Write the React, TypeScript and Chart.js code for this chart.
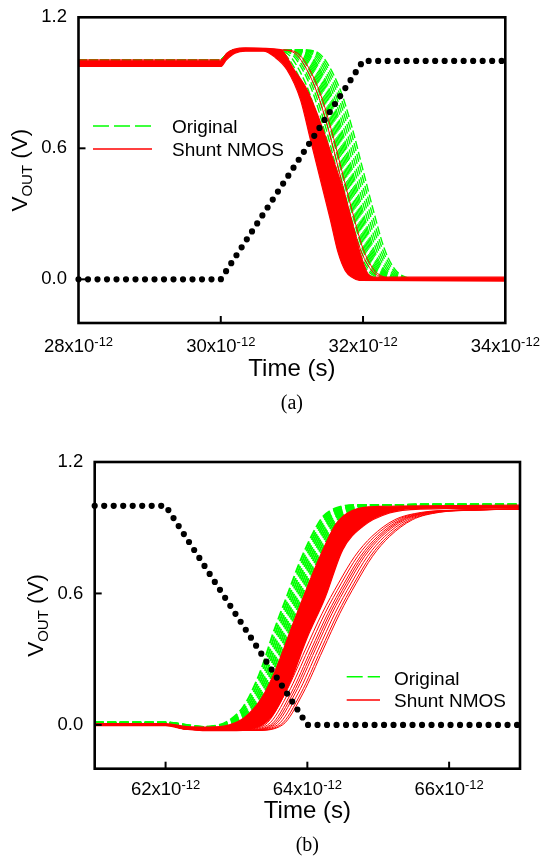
import React, { useEffect, useRef } from "react";
import { Chart, registerables } from "chart.js";

Chart.register(...registerables);

const SANS = '"Liberation Sans", Arial, Helvetica, sans-serif';
const SERIF = '"Liberation Serif", "Times New Roman", serif';
const RED = "#ff0000";
const GREEN = "#00ff00";

// ---------------- Panel (a): falling output ----------------
const xTicksA = [28, 30, 32, 34];
const yTicksA = [0.0, 0.6, 1.2];

const inputTimeA = [28, 30, 32, 34];
const inputVoltA = [0, 0, 1, 1];

const redUpperTimeA = [28, 30.0, 30.08, 30.2, 30.35, 30.84, 31.03, 31.21, 31.4, 31.58, 31.72, 31.86, 31.96, 32.06, 32.15, 34];
const redUpperVoltA = [0.998, 0.998, 1.035, 1.055, 1.06, 1.052, 0.96, 0.87, 0.72, 0.55, 0.41, 0.24, 0.12, 0.03, 0.01, 0.01];

const redLowerTimeA = [28, 30.0, 30.08, 30.2, 30.35, 30.6, 30.75, 30.93, 31.12, 31.26, 31.4, 31.54, 31.65, 31.75, 31.85, 31.95, 34];
const redLowerVoltA = [0.975, 0.975, 1.005, 1.035, 1.045, 1.045, 1.02, 0.96, 0.823, 0.64, 0.457, 0.274, 0.122, 0.04, 0.008, -0.005, -0.008];

// common lead-in (flat + overshoot) and fall shape, placed at each curve's 50% time
const fallLeadTimeA = [28, 30.0, 30.08, 30.2];
const fallLeadVoltA = [1.004, 1.004, 1.03, 1.05];
const fallOffsetA = [-0.8, -0.6, -0.45, -0.3, -0.15, 0, 0.15, 0.3, 0.45, 0.6, 0.8];
const fallVoltA = [1.05, 1.03, 0.96, 0.85, 0.69, 0.5, 0.31, 0.14, 0.045, 0.01, 0.0];
const fallTailTimeA = [34];
const fallTailVoltA = [0.0];

const greenMidA = [31.5, 31.55, 31.6, 31.63, 31.66, 31.69, 31.71, 31.73, 31.75, 31.77, 31.79, 31.81, 31.83, 31.85, 31.88, 31.91, 31.94, 31.97, 32.0];
const redThinMidA = [31.66, 31.7];

// ---------------- Panel (b): rising output ----------------
const xTicksB = [62, 64, 66];
const yTicksB = [0.0, 0.6, 1.2];

const inputTimeB = [61, 62, 64, 67];
const inputVoltB = [1, 1, 0, 0];

const redUpperTimeB = [61, 62, 62.3, 62.6, 62.9, 63.1, 63.35, 63.55, 63.8, 64.0, 64.18, 64.41, 64.64, 65.0, 67];
const redUpperVoltB = [0.006, 0.006, -0.008, -0.01, 0.0, 0.03, 0.12, 0.25, 0.464, 0.63, 0.77, 0.92, 0.98, 0.997, 1.003];

const redLowerTimeB = [61, 62, 62.25, 62.6, 63.0, 63.3, 63.5, 63.75, 64.0, 64.25, 64.5, 64.78, 65.16, 65.6, 67];
const redLowerVoltB = [-0.004, -0.004, -0.018, -0.026, -0.026, -0.012, 0.04, 0.19, 0.4, 0.58, 0.8, 0.905, 0.967, 0.985, 0.99];

const riseLeadTimeB = [61, 62];
const riseLeadVoltB = [0.01, 0.01];
const riseOffsetB = [-1.3, -1.0, -0.73, -0.5, -0.31, -0.2, -0.08, 0.11, 0.29, 0.48, 0.62, 0.81, 1.1];
const riseVoltB = [-0.01, -0.008, 0.015, 0.084, 0.205, 0.3, 0.42, 0.585, 0.74, 0.875, 0.95, 0.99, 1.003];
const riseTailTimeB = [67];
const riseTailVoltB = [1.005];
const greenMidB = [63.6, 63.63, 63.66, 63.69, 63.72, 63.75, 63.78, 63.81, 63.84, 63.87, 63.9];

const slowLeadTimeB = [61, 62, 62.3];
const slowLeadVoltB = [0.0, 0.0, -0.02];
const slowOffsetB = [-1.15, -0.8, -0.51, -0.23, 0.01, 0.24, 0.47, 0.71, 1.03, 1.41, 1.88];
const slowVoltB = [-0.025, 0.0, 0.145, 0.342, 0.51, 0.647, 0.77, 0.86, 0.936, 0.97, 0.98];
const slowTailTimeB = [67];
const slowTailVoltB = [0.985];
const redSlowMidB = [64.2, 64.24, 64.28, 64.31, 64.34, 64.38, 64.42, 64.45];

// ---------------- helpers ----------------
type Pt = { x: number; y: number };
const zip = (t: number[], v: number[]): Pt[] => t.map((x, i) => ({ x, y: v[i] }));

function placed(
  leadT: number[], leadV: number[],
  offs: number[], vals: number[],
  tailT: number[], tailV: number[],
  mid: number
): Pt[] {
  return [
    ...zip(leadT, leadV),
    ...offs.map((o, i) => ({ x: mid + o, y: vals[i] })),
    ...zip(tailT, tailV),
  ];
}

const dotsStyle = {
  borderColor: "#000",
  borderWidth: 6.2,
  borderDash: [0, 9.5],
  borderCapStyle: "round",
  borderJoinStyle: "round",
  pointRadius: 0,
  tension: 0,
  fill: false,
  clip: false,
};

function curve(data: Pt[], color: string, width: number, dash?: number[]) {
  return {
    data,
    borderColor: color,
    borderWidth: width,
    borderDash: dash || [],
    pointRadius: 0,
    fill: false,
    cubicInterpolationMode: "monotone",
  };
}

function buildA() {
  return [
    { data: zip(inputTimeA, inputVoltA), ...dotsStyle },
    curve(zip(redUpperTimeA, redUpperVoltA), RED, 1.2),
    { ...curve(zip(redLowerTimeA, redLowerVoltA), RED, 1.2), fill: 1, backgroundColor: RED },
    ...redThinMidA.map((m) =>
      curve(placed(fallLeadTimeA, fallLeadVoltA, fallOffsetA, fallVoltA, fallTailTimeA, fallTailVoltA, m), RED, 1)
    ),
    ...greenMidA.map((m) =>
      curve(placed(fallLeadTimeA, fallLeadVoltA, fallOffsetA, fallVoltA, fallTailTimeA, fallTailVoltA, m), GREEN, 1.4, [8, 3])
    ),
  ];
}

function buildB() {
  return [
    { data: zip(inputTimeB, inputVoltB), ...dotsStyle },
    curve(zip(redUpperTimeB, redUpperVoltB), RED, 1.2),
    { ...curve(zip(redLowerTimeB, redLowerVoltB), RED, 1.2), fill: 1, backgroundColor: RED },
    ...redSlowMidB.map((m) =>
      curve(placed(slowLeadTimeB, slowLeadVoltB, slowOffsetB, slowVoltB, slowTailTimeB, slowTailVoltB, m), RED, 1)
    ),
    ...greenMidB.map((m) =>
      curve(placed(riseLeadTimeB, riseLeadVoltB, riseOffsetB, riseVoltB, riseTailTimeB, riseTailVoltB, m), GREEN, 2, [9, 3.5])
    ),
  ];
}

type Decor = {
  xTicks: number[];
  yTicks: number[];
  xLabelGap: number;
  yLabelGap: number;
  titleGap: number;
  yTitleX: number;
  caption: string;
  captionGap: number;
  legend: { x1: number; x2: number; tx: number; gy: number; gty: number; ry: number; rty: number };
};

function decorPlugin(d: Decor) {
  return {
    id: "decor",
    afterDraw(chart: any) {
      const { ctx, chartArea: a, scales } = chart;
      const xs = scales.x;
      const ys = scales.y;
      ctx.save();
      // legend
      const L = d.legend;
      ctx.lineCap = "butt";
      ctx.strokeStyle = GREEN;
      ctx.lineWidth = 1.5;
      ctx.setLineDash([16, 5]);
      ctx.beginPath();
      ctx.moveTo(L.x1, L.gy);
      ctx.lineTo(L.x2, L.gy);
      ctx.stroke();
      ctx.setLineDash([]);
      ctx.strokeStyle = RED;
      ctx.lineWidth = 1.3;
      ctx.beginPath();
      ctx.moveTo(L.x1, L.ry);
      ctx.lineTo(L.x2, L.ry);
      ctx.stroke();
      ctx.fillStyle = "#000";
      ctx.font = `19px ${SANS}`;
      ctx.textAlign = "left";
      ctx.textBaseline = "alphabetic";
      ctx.fillText("Original", L.tx, L.gty);
      ctx.fillText("Shunt NMOS", L.tx, L.rty);

      // frame
      ctx.strokeStyle = "#000";
      ctx.lineWidth = 2.6;
      ctx.strokeRect(a.left, a.top, a.right - a.left, a.bottom - a.top);

      // tick marks (inward)
      ctx.lineWidth = 2;
      for (const v of d.xTicks) {
        const px = xs.getPixelForValue(v);
        if (px > a.left + 3 && px < a.right - 3) {
          ctx.beginPath();
          ctx.moveTo(px, a.bottom);
          ctx.lineTo(px, a.bottom - 7);
          ctx.stroke();
        }
      }
      for (const v of d.yTicks) {
        const py = ys.getPixelForValue(v);
        if (py > a.top + 3 && py < a.bottom - 3) {
          ctx.beginPath();
          ctx.moveTo(a.left, py);
          ctx.lineTo(a.left + 7, py);
          ctx.stroke();
        }
      }

      // y tick labels
      ctx.fillStyle = "#000";
      ctx.font = `18.5px ${SANS}`;
      ctx.textAlign = "right";
      ctx.textBaseline = "middle";
      for (const v of d.yTicks) {
        ctx.fillText(v.toFixed(1), a.left - d.yLabelGap, ys.getPixelForValue(v));
      }

      // x tick labels with superscript exponent
      ctx.textBaseline = "alphabetic";
      ctx.textAlign = "left";
      for (const v of d.xTicks) {
        const px = xs.getPixelForValue(v);
        const main = `${v}x10`;
        const sup = "-12";
        ctx.font = `18.5px ${SANS}`;
        const wm = ctx.measureText(main).width;
        ctx.font = `13px ${SANS}`;
        const ws = ctx.measureText(sup).width;
        const x0 = px - (wm + ws) / 2;
        const base = a.bottom + d.xLabelGap;
        ctx.font = `18.5px ${SANS}`;
        ctx.fillText(main, x0, base);
        ctx.font = `13px ${SANS}`;
        ctx.fillText(sup, x0 + wm, base - 6.5);
      }

      // x title
      ctx.font = `24px ${SANS}`;
      ctx.textAlign = "center";
      ctx.fillText("Time (s)", (a.left + a.right) / 2, a.bottom + d.titleGap);

      // y title (rotated) with subscript
      ctx.save();
      ctx.translate(d.yTitleX, (a.top + a.bottom) / 2);
      ctx.rotate(-Math.PI / 2);
      ctx.textAlign = "left";
      ctx.font = `22.5px ${SANS}`;
      const wV = ctx.measureText("V").width;
      const wP = ctx.measureText(" (V)").width;
      ctx.font = `15px ${SANS}`;
      const wO = ctx.measureText("OUT").width;
      let x = -(wV + wO + wP) / 2;
      ctx.font = `22.5px ${SANS}`;
      ctx.fillText("V", x, 0);
      x += wV;
      ctx.font = `15px ${SANS}`;
      ctx.fillText("OUT", x, 5);
      x += wO;
      ctx.font = `22.5px ${SANS}`;
      ctx.fillText(" (V)", x, 0);
      ctx.restore();

      // caption
      ctx.font = `20px ${SERIF}`;
      ctx.textAlign = "center";
      ctx.fillText(d.caption, (a.left + a.right) / 2, a.bottom + d.captionGap);
      ctx.restore();
    },
  };
}

type PanelProps = {
  top: number;
  height: number;
  datasets: any[];
  xMin: number;
  xMax: number;
  padding: { left: number; right: number; top: number; bottom: number };
  decor: Decor;
};

function Panel({ top, height, datasets, xMin, xMax, padding, decor }: PanelProps) {
  const ref = useRef<HTMLCanvasElement | null>(null);
  useEffect(() => {
    if (!ref.current) return;
    const chart = new Chart(ref.current, {
      type: "line",
      data: { datasets },
      options: {
        responsive: false,
        maintainAspectRatio: false,
        animation: false,
        devicePixelRatio: 1,
        events: [],
        layout: { padding },
        scales: {
          x: { type: "linear", display: false, min: xMin, max: xMax },
          y: { type: "linear", display: false, min: -0.2, max: 1.2 },
        },
        plugins: {
          legend: { display: false },
          tooltip: { enabled: false },
        },
      } as any,
      plugins: [decorPlugin(decor)],
    });
    return () => chart.destroy();
  }, []);
  return (
    <canvas
      ref={ref}
      width={543}
      height={height}
      style={{ position: "absolute", left: 0, top, width: 543, height, display: "block" }}
    />
  );
}

export default function App() {
  return (
    <div style={{ position: "absolute", left: 0, top: 0, width: 543, height: 863, background: "#fff", overflow: "hidden" }}>
      <Panel
        top={0}
        height={430}
        datasets={buildA()}
        xMin={28}
        xMax={34}
        padding={{ left: 78.5, right: 37.7, top: 17.3, bottom: 107 }}
        decor={{
          xTicks: xTicksA,
          yTicks: yTicksA,
          xLabelGap: 29.3,
          yLabelGap: 11.5,
          titleGap: 52.5,
          yTitleX: 27.3,
          caption: "(a)",
          captionGap: 86,
          legend: { x1: 93, x2: 152, tx: 172, gy: 126, gty: 133.3, ry: 149, rty: 156 },
        }}
      />
      <Panel
        top={430}
        height={433}
        datasets={buildB()}
        xMin={61}
        xMax={67}
        padding={{ left: 94.7, right: 23, top: 32, bottom: 94.3 }}
        decor={{
          xTicks: xTicksB,
          yTicks: yTicksB,
          xLabelGap: 26.5,
          yLabelGap: 11.5,
          titleGap: 49,
          yTitleX: 43.3,
          caption: "(b)",
          captionGap: 82,
          legend: { x1: 346.7, x2: 380, tx: 394, gy: 246.7, gty: 254.5, ry: 270, rty: 276.7 },
        }}
      />
    </div>
  );
}
